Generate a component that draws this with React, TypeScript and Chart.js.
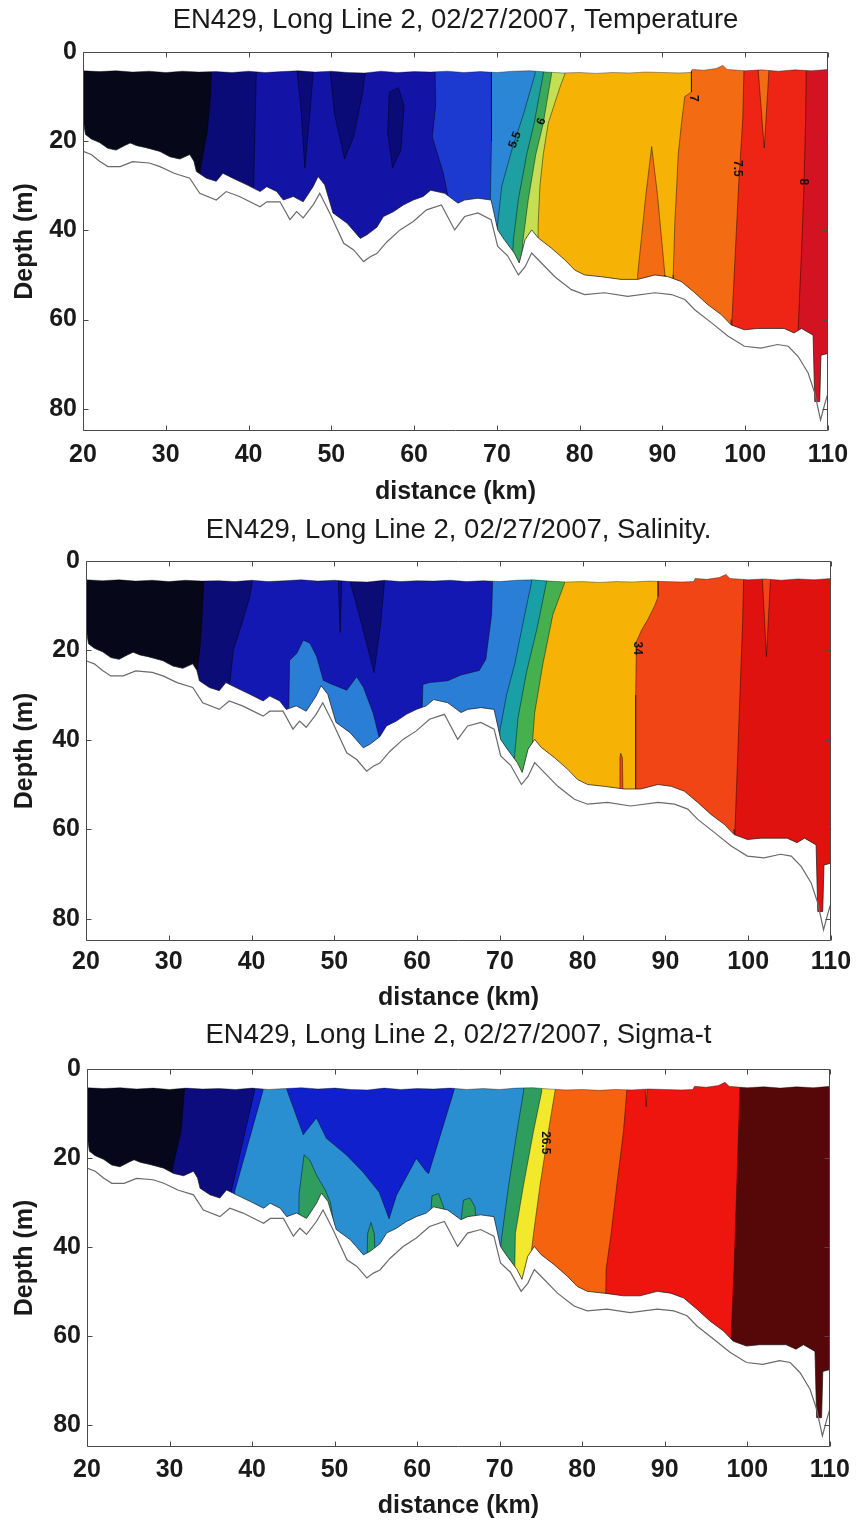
import React, { useEffect, useRef } from 'react';
import { Chart, registerables } from 'chart.js';

Chart.register(...registerables);

type Pt = [number, number];
interface Patch { c: number; pts: Pt[] }
interface CLabel { t: string; x: number; y: number; r: number }

// ---------- axes ----------
const X_TICKS = [20, 30, 40, 50, 60, 70, 80, 90, 100, 110];
const Y_TICKS = [0, 20, 40, 60, 80];
const X_MIN = 20, X_MAX = 110;
const Y_MIN = 0, Y_MAX = 85;

// ---------- shared section geometry (distance km, depth m) ----------
const TOP_EDGE: Pt[] = [
  [20, 4.2], [22, 4.4], [24, 4.2], [26, 4.5], [28, 4.3], [30, 4.6], [32, 4.3], [34, 4.5], [36, 4.4],
  [38, 4.6], [40, 4.3], [42, 4.6], [44, 4.4], [46, 4.2], [48, 4.5], [50, 4.3], [52, 4.6], [54, 4.7],
  [56, 4.3], [58, 4.6], [60, 4.4], [62, 4.5], [64, 4.3], [66, 4.6], [68, 4.4], [70, 4.6], [72, 4.3],
  [74, 4.2], [76, 4.5], [78, 4.7], [80, 4.6], [82, 4.8], [84, 4.6], [86, 4.7], [88, 4.5], [90, 4.6],
  [92, 4.7], [93.4, 4.6], [93.6, 3.9], [95, 4.1], [96.5, 3.7], [97.3, 3.0], [97.8, 3.9], [100, 4.2],
  [102, 4.0], [104, 4.3], [106, 4.0], [108, 4.2], [110, 3.9],
];

const SEA_BOTTOM: Pt[] = [
  [20.0, 14.9], [20.3, 18.5], [21.0, 19.5], [22.0, 20.3], [23.0, 21.6], [24.0, 22.0], [25.0, 21.0],
  [25.7, 20.4], [26.5, 21.0], [27.5, 21.4], [28.3, 21.8], [29.3, 22.3], [30.5, 23.5], [31.7, 24.0],
  [32.9, 23.0], [33.4, 24.5], [33.7, 26.8], [34.9, 28.3], [36.1, 29.0], [36.9, 27.2], [38.1, 28.3],
  [39.8, 29.8], [41.4, 31.3], [42.2, 30.2], [43.4, 31.3], [44.2, 33.2], [45.4, 32.4], [46.6, 33.6],
  [47.8, 30.2], [48.4, 27.9], [49.2, 29.8], [50.2, 36.1], [51.9, 38.4], [53.5, 41.8], [54.3, 41.0],
  [55.5, 39.3], [56.3, 36.9], [57.5, 35.8], [58.7, 34.3], [59.9, 33.2], [61.1, 32.4], [62.0, 31.0],
  [63.7, 31.7], [65.3, 33.9], [66.1, 33.2], [67.7, 32.8], [69.3, 33.2], [70.1, 39.9], [70.9, 42.1],
  [72.1, 45.1], [72.7, 47.3], [73.4, 42.1], [74.2, 39.9], [75.0, 41.7], [76.6, 44.0], [78.2, 46.6],
  [79.4, 48.9], [80.6, 50.0], [82.6, 50.4], [85.0, 51.0], [87.0, 51.0], [89.1, 50.0], [90.7, 50.4],
  [92.3, 51.5], [93.9, 54.0], [95.5, 56.7], [97.1, 58.9], [98.3, 61.2], [99.9, 62.3], [101.5, 62.0],
  [103.1, 62.0], [104.7, 62.0], [105.9, 63.0], [106.8, 62.0], [108.2, 63.5], [108.4, 78.4],
  [109.0, 78.4], [109.15, 68.0], [110.0, 67.6],
];

const BATHYMETRY: Pt[] = [
  [20.0, 22.3], [21.0, 23.0], [22.0, 24.5], [23.0, 25.7], [24.5, 25.7], [26.0, 24.6], [28.0, 24.9],
  [29.3, 25.7], [31.0, 27.2], [32.9, 28.3], [34.1, 31.7], [36.1, 33.2], [37.3, 31.3], [38.9, 32.4],
  [41.4, 34.7], [42.2, 33.6], [43.8, 33.6], [45.0, 37.6], [45.8, 35.8], [46.6, 37.2], [47.8, 34.3],
  [48.6, 31.7], [49.8, 36.1], [51.5, 42.9], [52.7, 44.4], [53.9, 47.0], [54.7, 45.9], [55.5, 45.2],
  [56.7, 42.6], [58.3, 39.9], [59.9, 38.0], [61.5, 35.4], [63.3, 34.3], [64.9, 39.9], [66.1, 36.9],
  [67.7, 36.1], [69.3, 37.6], [70.1, 43.6], [71.3, 45.7], [72.6, 50.0], [73.4, 48.2], [74.2, 45.1],
  [75.0, 46.6], [77.0, 50.4], [79.0, 53.3], [80.6, 54.4], [83.0, 54.0], [85.8, 54.8], [89.1, 54.0],
  [91.1, 54.4], [92.7, 55.5], [93.9, 57.8], [95.9, 60.7], [97.9, 63.7], [99.9, 66.0], [101.9, 66.4],
  [103.9, 65.6], [105.2, 66.0], [106.4, 68.3], [107.6, 72.0], [108.4, 76.5], [109.1, 82.5],
  [109.6, 79.0], [110.0, 76.5],
];

// ---------- Temperature ----------
const TEMP_COLORS = ['#07071a', '#0b0b78', '#1313a6', '#1c3ad0', '#2c86d6', '#1e9fa2', '#3aa95c', '#c4e052', '#f6b306', '#f36b13', '#ee2415', '#d31322'];
const TEMP_BOUNDS: Pt[][] = [
  [[20, 0], [20, 90]],
  [[35.6, 0], [35.4, 10], [35.0, 18], [34.2, 26], [34.0, 32]],
  [[41.0, 0], [40.8, 15], [40.6, 32]],
  [[62.5, 0], [62.6, 12], [62.2, 19], [63.5, 27], [64.5, 36]],
  [[69.3, 0], [69.4, 20], [69.2, 34], [69.2, 40]],
  [[74.8, 0], [74.6, 5], [73.2, 14], [71.8, 22], [70.6, 30], [70.0, 40], [69.8, 50]],
  [[75.8, 0], [75.6, 5], [74.5, 16], [73.6, 23], [72.6, 33], [72.0, 42], [71.8, 50]],
  [[76.8, 0], [76.6, 5], [75.6, 16], [74.7, 23], [73.8, 33], [73.1, 43], [73.0, 50]],
  [[78.3, 0], [78.2, 5], [77.6, 8], [76.2, 16], [75.6, 23], [75.2, 30], [75.0, 38], [74.9, 50]],
  [[93.5, 0], [93.5, 9], [92.7, 10], [92.3, 16], [91.9, 23], [91.7, 31], [91.5, 38], [91.3, 50], [91.3, 56]],
  [[99.9, 0], [99.7, 15], [99.2, 30], [98.8, 45], [98.4, 60], [98.3, 66]],
  [[107.4, 0], [107.3, 15], [107.1, 30], [106.8, 45], [106.4, 62], [106.3, 70]],
];
const TEMP_PATCHES: Patch[] = [
  { c: 1, pts: [[45.6, 0], [46.3, 12], [46.8, 26], [47.4, 14], [48.0, 0]] },
  { c: 1, pts: [[49.6, 0], [50.4, 14], [51.6, 24], [52.7, 19], [53.8, 9], [54.4, 0]] },
  { c: 1, pts: [[57.0, 9], [56.8, 18], [57.4, 26], [58.4, 22], [58.8, 12], [58.1, 8]] },
  { c: 9, pts: [[87.0, 56], [87.0, 50], [88.0, 32], [88.7, 21.2], [89.4, 32], [90.3, 50], [90.3, 56]] },
  { c: 9, pts: [[101.4, 0], [102.3, 21.5], [103.0, 0]] },
];
const TEMP_LABELS: CLabel[] = [
  { t: '5.5', x: 72.2, y: 19.7, r: -70 },
  { t: '6', x: 75.4, y: 15.6, r: -70 },
  { t: '7', x: 93.7, y: 10.4, r: 90 },
  { t: '7.5', x: 99.1, y: 26.1, r: 90 },
  { t: '8', x: 107.0, y: 29.1, r: 90 },
];

// ---------- Salinity ----------
const SAL_COLORS = ['#07071a', '#0c0c76', '#1418b2', '#2a7ed6', '#19a0a6', '#46b04e', '#f6b306', '#f24516', '#e0120f'];
const SAL_BOUNDS: Pt[][] = [
  [[20, 0], [20, 90]],
  [[34.3, 0], [34.1, 10], [33.8, 19], [33.4, 25], [33.3, 32]],
  [[40.5, 0], [39.8, 8], [39.0, 13], [37.8, 20], [37.4, 27], [37.3, 35]],
  [[69.2, 0], [69.0, 12], [68.3, 22], [67.5, 24.5], [65.3, 25.5], [63.7, 26.8], [61.5, 27.2], [60.7, 27.6], [60.5, 40]],
  [[74.0, 0], [73.8, 5], [73.0, 12], [71.8, 23], [70.8, 30], [70.0, 38], [69.8, 50]],
  [[75.7, 0], [75.6, 5], [74.5, 15], [73.2, 25], [72.2, 35], [71.7, 45], [71.5, 55]],
  [[77.9, 0], [77.8, 5], [76.4, 12], [75.2, 23], [74.2, 34], [73.8, 44], [73.7, 55]],
  [[89.1, 0], [89.1, 8], [88.7, 10], [87.9, 13], [87.1, 15.5], [86.5, 18], [86.4, 30], [86.4, 56]],
  [[99.5, 0], [99.3, 15], [99.0, 30], [98.7, 45], [98.4, 60], [98.3, 66]],
];
const SAL_PATCHES: Patch[] = [
  { c: 1, pts: [[51.2, 0], [53.0, 12], [54.8, 25], [55.6, 14], [56.3, 0]] },
  { c: 1, pts: [[50.4, 0], [50.7, 16], [51.0, 0]] },
  { c: 3, pts: [[44.4, 45], [44.6, 22.2], [45.45, 20.7], [46.25, 17.7], [47.06, 18.4], [47.87, 21.4], [48.67, 26.7], [49.48, 27.4], [51.5, 28.9], [52.7, 25.9], [53.5, 28.2], [54.7, 34.1], [55.5, 40.1], [55.8, 48]] },
  { c: 7, pts: [[84.4, 56], [84.5, 44], [84.6, 43], [84.8, 44], [84.9, 56]] },
  { c: 7, pts: [[101.6, 0], [102.2, 21.4], [102.8, 0]] },
];
const SAL_LABELS: CLabel[] = [{ t: '34', x: 86.6, y: 19.5, r: 90 }];

// ---------- Sigma-t ----------
const SIG_COLORS = ['#07071c', '#0c0c7e', '#1020cc', '#2a8fd0', '#2e9d5e', '#f2e92c', '#f5630f', '#ef150f', '#560707'];
const SIG_BOUNDS: Pt[][] = [
  [[20, 0], [20, 90]],
  [[31.9, 0], [31.8, 5], [31.4, 14], [30.4, 22], [30.2, 28]],
  [[40.4, 0], [40.3, 5], [37.3, 29], [37.2, 36]],
  [[41.4, 0], [41.3, 5], [37.9, 27.5], [37.8, 36]],
  [[73.0, 0], [72.9, 5], [72.1, 14], [71.1, 26], [70.3, 37], [70.0, 42], [69.9, 52]],
  [[75.2, 0], [75.1, 5], [74.1, 14], [72.9, 26], [71.9, 37], [71.8, 48]],
  [[76.8, 0], [76.7, 5], [75.9, 14], [74.9, 26], [74.1, 37], [73.7, 43], [73.6, 52]],
  [[85.6, 0], [85.4, 5], [85.0, 14], [84.2, 26], [83.5, 37], [82.9, 45], [82.8, 56]],
  [[99.2, 0], [99.1, 5], [98.8, 22], [98.4, 45], [98.0, 62], [97.9, 70]],
];
const SIG_PATCHES: Patch[] = [
  { c: 2, pts: [[44.0, -1], [44.2, 4.6], [46.2, 14.8], [47.8, 11], [49.0, 15.6], [51.4, 19.3], [53.4, 23.1], [55.4, 27.7], [56.6, 33.7], [57.5, 28.4], [59.9, 20.1], [61.1, 23.1], [61.4, 23.5], [64.5, 4.6], [64.6, -1]] },
  { c: 4, pts: [[45.6, 40], [45.7, 28], [46.3, 19.3], [47.0, 20.5], [47.9, 24.2], [48.8, 27], [49.5, 30], [49.9, 35], [50.2, 40]] },
  { c: 4, pts: [[53.9, 45], [54.0, 37], [54.4, 34.5], [54.8, 37], [55.0, 45]] },
  { c: 4, pts: [[61.5, 36], [61.8, 28.5], [62.6, 28], [63.2, 31], [63.3, 36]] },
  { c: 4, pts: [[65.2, 36], [65.6, 29.5], [66.4, 29], [67.0, 31], [67.2, 36]] },
  { c: 6, pts: [[87.5, 0], [87.75, 8.5], [88.0, 0]] },
];
const SIG_LABELS: CLabel[] = [{ t: '26.5', x: 75.5, y: 16.6, r: 90 }];

// ---------- panel layout ----------
interface PanelSpec {
  title: string; top: number; h: number; left: number; right: number;
  areaBottom: number; titleY: number; tickY: number; xlabelY: number;
  colors: string[]; bounds: Pt[][]; patches: Patch[]; labels: CLabel[];
}

const PANELS: PanelSpec[] = [
  { title: 'EN429, Long Line 2, 02/27/2007, Temperature', top: 0, h: 509, left: 83, right: 828, areaBottom: 431, titleY: 20, tickY: 455, xlabelY: 492, colors: TEMP_COLORS, bounds: TEMP_BOUNDS, patches: TEMP_PATCHES, labels: TEMP_LABELS },
  { title: 'EN429, Long Line 2, 02/27/2007, Salinity.', top: 509, h: 508, left: 86, right: 831, areaBottom: 432, titleY: 21, tickY: 453, xlabelY: 489, colors: SAL_COLORS, bounds: SAL_BOUNDS, patches: SAL_PATCHES, labels: SAL_LABELS },
  { title: 'EN429, Long Line 2, 02/27/2007, Sigma-t', top: 1017, h: 509, left: 87, right: 832, areaBottom: 430, titleY: 18, tickY: 453, xlabelY: 489, colors: SIG_COLORS, bounds: SIG_BOUNDS, patches: SIG_PATCHES, labels: SIG_LABELS },
];

const AREA_TOP = 52;
const TITLE_SIZE = 27.5;
const FONT = "'Liberation Sans', Arial, Helvetica, sans-serif";
const TEXT = '#1a1a1a';
const CONTOUR = 'rgba(0,0,0,0.55)';
const NONE = 'rgba(0,0,0,0)';

const toXY = (p: Pt) => ({ x: p[0], y: p[1] });

function poly(pts: { x: number; y: number }[], fillColor: string, border: string, bw: number) {
  return {
    data: pts, fill: 'shape', backgroundColor: fillColor, borderColor: border, borderWidth: bw,
    pointRadius: 0, pointHoverRadius: 0, tension: 0,
  };
}
function line(pts: Pt[], color: string, bw: number) {
  return {
    data: pts.map(toXY), fill: false, backgroundColor: color, borderColor: color, borderWidth: bw,
    pointRadius: 0, pointHoverRadius: 0, tension: 0,
  };
}

function buildDatasets(spec: PanelSpec) {
  const list: any[] = [];
  spec.bounds.forEach((b, i) => {
    const first = b[0], last = b[b.length - 1];
    const pts = [{ x: first[0], y: -5 }, ...b.map(toXY), { x: last[0], y: 95 }, { x: 125, y: 95 }, { x: 125, y: -5 }];
    list.push(poly(pts, spec.colors[i], i === 0 ? NONE : CONTOUR, 0.8));
  });
  spec.patches.forEach((p) => {
    const pts = [...p.pts, p.pts[0]].map(toXY);
    list.push(poly(pts, spec.colors[p.c], CONTOUR, 0.8));
  });
  const tFirst = TOP_EDGE[0], tLast = TOP_EDGE[TOP_EDGE.length - 1];
  list.push(poly([{ x: 19, y: -5 }, { x: 19, y: tFirst[1] }, ...TOP_EDGE.map(toXY), { x: 111, y: tLast[1] }, { x: 111, y: -5 }], '#ffffff', NONE, 1));
  const bFirst = SEA_BOTTOM[0], bLast = SEA_BOTTOM[SEA_BOTTOM.length - 1];
  list.push(poly([{ x: 19, y: bFirst[1] }, ...SEA_BOTTOM.map(toXY), { x: 111, y: bLast[1] }, { x: 111, y: 95 }, { x: 19, y: 95 }], '#ffffff', NONE, 1));
  list.push(line(TOP_EDGE, 'rgba(0,0,0,0.45)', 0.8));
  list.push(line(SEA_BOTTOM, 'rgba(25,25,25,0.8)', 0.9));
  list.push(line(BATHYMETRY, '#6a6a6a', 1.2));
  list.forEach((d, i) => { d.order = list.length - i; });
  return list;
}

const framePlugin = {
  id: 'axesFrame',
  afterDatasetsDraw(chart: any) {
    const { ctx, chartArea: a, scales } = chart;
    ctx.save();
    ctx.strokeStyle = '#4a4a4a';
    ctx.lineWidth = 1;
    ctx.beginPath();
    const L = Math.round(a.left) + 0.5, T = Math.round(a.top) + 0.5;
    const R = Math.round(a.right) - 0.5, B = Math.round(a.bottom) - 0.5;
    ctx.rect(L, T, R - L, B - T);
    for (const v of X_TICKS) {
      const px = Math.round(scales.x.getPixelForValue(v)) + 0.5;
      ctx.moveTo(px, T); ctx.lineTo(px, T + 5);
      ctx.moveTo(px, B); ctx.lineTo(px, B - 5);
    }
    for (const v of Y_TICKS) {
      const py = Math.round(scales.y.getPixelForValue(v)) + 0.5;
      ctx.moveTo(L, py); ctx.lineTo(L + 5, py);
      ctx.moveTo(R, py); ctx.lineTo(R - 5, py);
    }
    ctx.stroke();
    ctx.restore();
  },
};

function labelPlugin(labels: CLabel[]) {
  return {
    id: 'contourLabels',
    afterDatasetsDraw(chart: any) {
      const { ctx, scales } = chart;
      ctx.save();
      ctx.fillStyle = '#111';
      ctx.font = `bold 12px ${FONT}`;
      ctx.textAlign = 'center';
      ctx.textBaseline = 'middle';
      for (const l of labels) {
        ctx.save();
        ctx.translate(scales.x.getPixelForValue(l.x), scales.y.getPixelForValue(l.y));
        ctx.rotate((l.r * Math.PI) / 180);
        ctx.fillText(l.t, 0, 0);
        ctx.restore();
      }
      ctx.restore();
    },
  };
}

function buildConfig(spec: PanelSpec): any {
  const tickFont = { family: FONT, size: 25, weight: 'bold' as const };
  const half = (TITLE_SIZE * 1.2) / 2;
  return {
    type: 'line',
    data: { datasets: buildDatasets(spec) },
    plugins: [labelPlugin(spec.labels), framePlugin],
    options: {
      responsive: false,
      animation: false,
      devicePixelRatio: 1,
      events: [],
      layout: { padding: { left: 0, top: 0, bottom: 0, right: 858 - spec.right } },
      plugins: {
        legend: { display: false },
        tooltip: { enabled: false },
        title: {
          display: true, text: spec.title, color: TEXT, fullSize: false,
          font: { family: FONT, size: TITLE_SIZE, weight: 'normal', lineHeight: 1.2 },
          padding: { top: spec.titleY - half, bottom: AREA_TOP - spec.titleY - half },
        },
      },
      scales: {
        x: {
          type: 'linear', position: 'bottom', min: X_MIN, max: X_MAX,
          grid: { display: false, drawTicks: false }, border: { display: false },
          ticks: { font: tickFont, color: TEXT, padding: spec.tickY - spec.areaBottom - 15, maxRotation: 0, autoSkip: false },
          afterBuildTicks: (s: any) => { s.ticks = X_TICKS.map((v) => ({ value: v })); },
          afterFit: (s: any) => { s.height = spec.h - spec.areaBottom; },
          title: { display: true, text: 'distance (km)', color: TEXT, font: { family: FONT, size: 25, weight: 'bold', lineHeight: 1.2 }, padding: { top: 0, bottom: spec.h - spec.xlabelY - 15 } },
        },
        y: {
          type: 'linear', position: 'left', min: Y_MIN, max: Y_MAX, reverse: true,
          grid: { display: false, drawTicks: false }, border: { display: false },
          ticks: { font: tickFont, color: TEXT, padding: 6 },
          afterBuildTicks: (s: any) => { s.ticks = Y_TICKS.map((v) => ({ value: v })); },
          afterFit: (s: any) => { s.width = spec.left; },
          title: { display: true, text: 'Depth (m)', color: TEXT, font: { family: FONT, size: 25, weight: 'bold', lineHeight: 1.2 }, padding: { top: 10, bottom: 0 } },
        },
      },
    },
  };
}

function Panel({ spec }: { spec: PanelSpec }) {
  const ref = useRef<HTMLCanvasElement>(null);
  useEffect(() => {
    if (!ref.current) return;
    const chart = new Chart(ref.current, buildConfig(spec));
    return () => chart.destroy();
  }, [spec]);
  return (
    <canvas
      ref={ref}
      width={858}
      height={spec.h}
      style={{ position: 'absolute', left: 0, top: spec.top, width: 858, height: spec.h }}
    />
  );
}

export default function App() {
  return (
    <div style={{ position: 'absolute', left: 0, top: 0, width: 858, height: 1526, overflow: 'hidden', background: '#ffffff' }}>
      {PANELS.map((p, i) => <Panel key={i} spec={p} />)}
    </div>
  );
}
